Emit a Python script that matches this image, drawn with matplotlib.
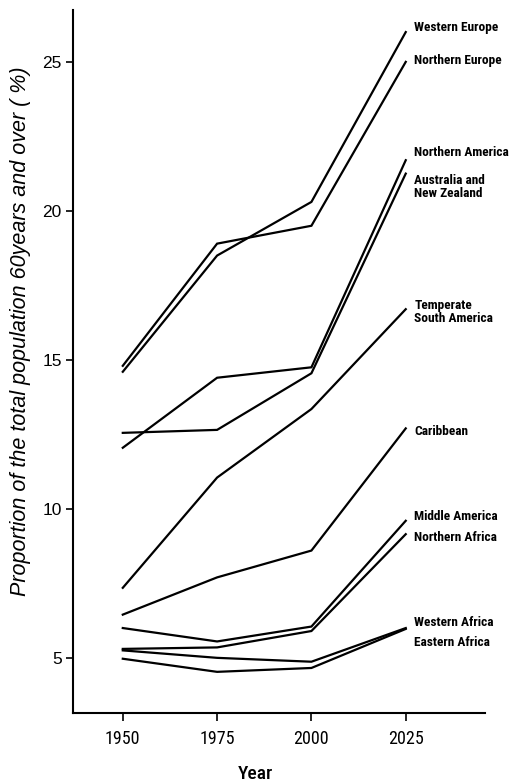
import matplotlib
matplotlib.use("Agg")
import matplotlib.pyplot as plt
from matplotlib import font_manager

years = [1950, 1975, 2000, 2025]

# share of population aged 60+ (%), by region
western_europe = [14.6, 18.5, 20.3, 26.0]
northern_europe = [14.8, 18.9, 19.5, 25.0]
northern_america = [12.05, 14.4, 14.75, 21.7]
australia_nz = [12.55, 12.65, 14.55, 21.25]
temperate_south_america = [7.35, 11.05, 13.35, 16.7]
caribbean = [6.45, 7.7, 8.6, 12.7]
middle_america = [6.0, 5.55, 6.05, 9.6]
northern_africa = [5.3, 5.35, 5.9, 9.15]
western_africa = [5.25, 5.0, 4.87, 6.0]
eastern_africa = [4.97, 4.53, 4.66, 5.97]

series = [western_europe, northern_europe, northern_america, australia_nz,
          temperate_south_america, caribbean, middle_america, northern_africa,
          western_africa, eastern_africa]

region_labels = ["Western Europe", "Northern Europe", "Northern America",
                 "Australia and\nNew Zealand", "Temperate\nSouth America",
                 "Caribbean", "Middle America", "Northern Africa",
                 "Western Africa", "Eastern Africa"]
# vertical placement of the region names (data units)
label_y = [26.15, 25.05, 21.95, 20.8, 16.6, 12.6, 9.75, 9.05, 6.2, 5.5]


def pick_narrow():
    # prefer a condensed face for the region names, else plain Liberation Sans
    for fam, scale in [("Roboto Condensed", 1.0), ("Liberation Sans Narrow", 1.0)]:
        try:
            font_manager.findfont(font_manager.FontProperties(family=fam),
                                  fallback_to_default=False)
            return fam, scale
        except ValueError:
            pass
    return "Liberation Sans", 0.82


narrow, k = pick_narrow()
plt.rcParams["font.family"] = ["Liberation Sans", "DejaVu Sans"]

fig = plt.figure(figsize=(5.15, 7.84), dpi=100)
ax = fig.add_axes([0.1417, 0.0906, 0.80, 0.897])

for vals in series:
    ax.plot(years, vals, color="black", lw=1.6, solid_joinstyle="miter")

for text, y in zip(region_labels, label_y):
    ax.text(2027.3, y, text, fontsize=9.6 * k, fontweight="bold", family=narrow,
            va="center", ha="left", linespacing=1.05)

ax.set_xlim(1936.8, 2046)
ax.set_ylim(3.15, 26.75)
ax.set_xticks(years)
ax.set_yticks([5, 10, 15, 20, 25])
ax.tick_params(axis="y", direction="out", length=5, width=1.2, labelsize=12.5, pad=3)
ax.tick_params(axis="x", direction="out", length=6, width=1.2, labelsize=13 * k, pad=6)
for lab in ax.get_xticklabels():
    lab.set_family(narrow)

for side in ["top", "right"]:
    ax.spines[side].set_visible(False)
for side in ["left", "bottom"]:
    ax.spines[side].set_linewidth(1.5)

ax.set_xlabel("Year", fontsize=14 * k, family=narrow, fontweight="medium")
ax.xaxis.set_label_coords(0.442, -0.074)
ax.set_ylabel("Proportion of the total population 60years and over ( %)",
              fontsize=15.5, style="italic")
ax.yaxis.set_label_coords(-0.103, 0.543)

fig.savefig("out.png", dpi=100)
